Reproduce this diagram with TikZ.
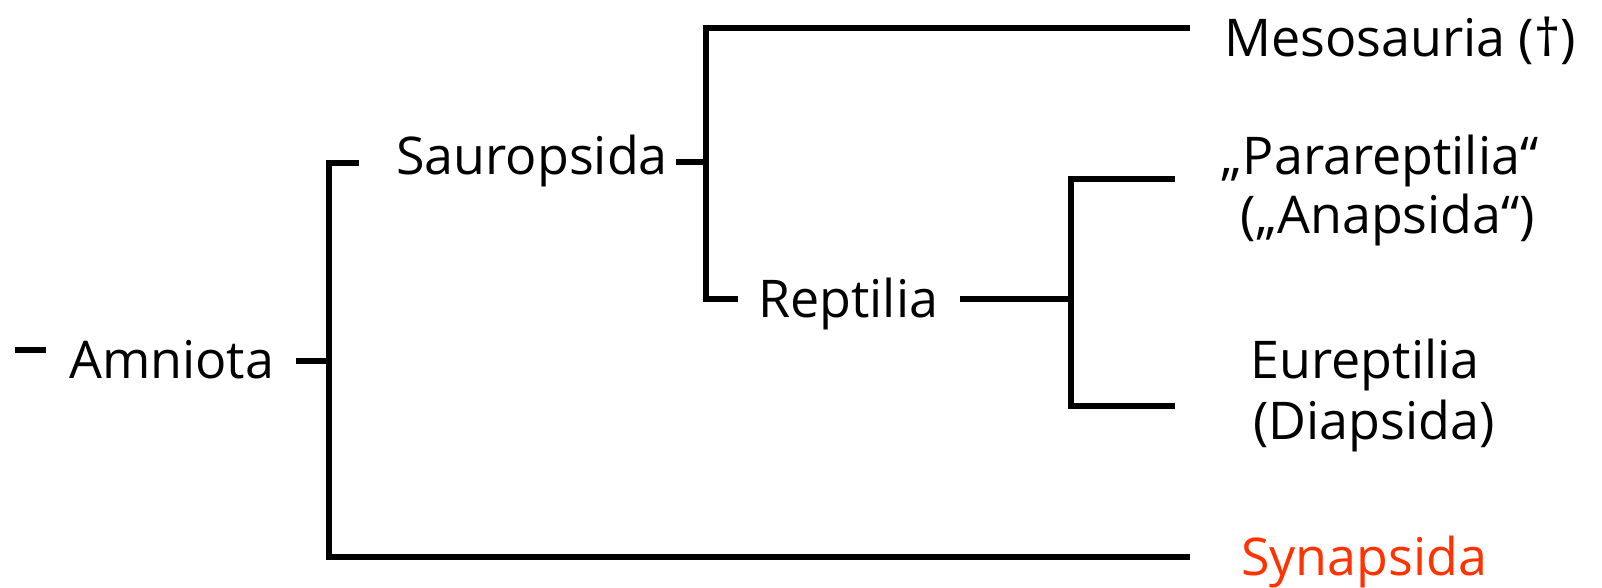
\documentclass[tikz,border=0pt]{standalone}
\usepackage{fontspec}
\setmainfont{Open Sans}
\definecolor{synred}{RGB}{255,51,0}
\begin{document}
\begin{tikzpicture}[x=1pt,y=-1pt,
  br/.style={line width=6pt,line cap=butt,line join=miter},
  lbl/.style={inner sep=0pt,font=\fontsize{52}{60}\selectfont},
  lw/.style={lbl,anchor=base west},
  lc/.style={lbl,anchor=base}]
\useasboundingbox (0,0) rectangle (1602,587);
% labels
\node[lw] (amn) at (69,378) {Amniota};
\node[lw] (sau) at (396,174) {Sauropsida};
\node[lw] (meso) at (1224,56) {Mesosauria (†)};
\node[lw] (rep) at (758,317) {Reptilia};
\node[lc] (para1) at (1380,174) {„Parareptilia“};
\node[lc] (para2) at (1388,233) {(„Anapsida“)};
\node[lc] (eur1) at (1365,378) {Eureptilia};
\node[lc] (eur2) at (1374,439) {(Diapsida)};
\node[lw,text=synred] (syn) at (1241,575) {Synapsida};
% junction coordinates
\coordinate (d1) at (15,350);
\coordinate (d2) at (46,350);
\coordinate (a1) at (296,361);
\coordinate (a2) at (329,361);
\coordinate (rt) at (329,163);
\coordinate (rt2) at (359,163);
\coordinate (rb) at (329,557);
\coordinate (synl) at (1190,557);
\coordinate (s1) at (676,162);
\coordinate (s2) at (706,162);
\coordinate (st) at (706,28);
\coordinate (mesl) at (1190,28);
\coordinate (sb) at (706,299);
\coordinate (sb2) at (738,299);
\coordinate (r1) at (960,299);
\coordinate (r2) at (1071,299);
\coordinate (rt3) at (1071,179);
\coordinate (paral) at (1175,179);
\coordinate (rb3) at (1071,406);
\coordinate (eurl) at (1175,406);
% branches
\draw[br] (d1) -- (d2);
\draw[br] (a1) -- (a2);
\draw[br] (rt2) -- (rt) -- (rb) -- (synl);
\draw[br] (s1) -- (s2);
\draw[br] (mesl) -- (st) -- (sb) -- (sb2);
\draw[br] (r1) -- (r2);
\draw[br] (paral) -- (rt3) -- (rb3) -- (eurl);
\end{tikzpicture}
\end{document}
